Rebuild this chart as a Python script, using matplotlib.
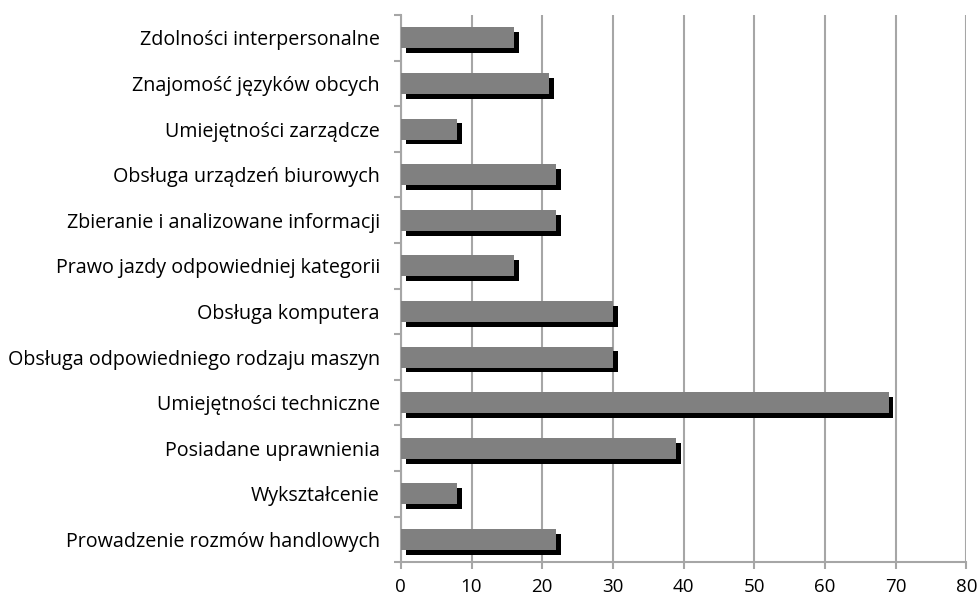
import numpy as np
import matplotlib
matplotlib.use('Agg')
import matplotlib.pyplot as plt
import matplotlib.patheffects as pe

categories = [
    'Prowadzenie rozmów handlowych',
    'Wykształcenie',
    'Posiadane uprawnienia',
    'Umiejętności techniczne',
    'Obsługa odpowiedniego rodzaju maszyn',
    'Obsługa komputera',
    'Prawo jazdy odpowiedniej kategorii',
    'Zbieranie i analizowane informacji',
    'Obsługa urządzeń biurowych',
    'Umiejętności zarządcze',
    'Znajomość języków obcych',
    'Zdolności interpersonalne',
]
values = [22, 8, 39, 69, 30, 30, 16, 22, 22, 8, 21, 16]
xticks = [0, 10, 20, 30, 40, 50, 60, 70, 80]

plt.rcParams['font.family'] = ['Open Sans', 'DejaVu Sans']
grid_col = '#a6a6a6'

fig = plt.figure(figsize=(9.8, 6.02), dpi=100)
ax = fig.add_axes([0.409, 0.066, 0.577, 0.909])

y = np.arange(len(categories))
bars = ax.barh(y, values, height=0.46, color='#808080', zorder=3)
for b in bars:
    b.set_path_effects([pe.SimplePatchShadow(offset=(3.5, -3.5), shadow_rgbFace='black', alpha=1.0),
                        pe.Normal()])

ax.set_xlim(0, 80)
ax.set_ylim(-0.5, len(categories) - 0.5)
ax.set_xticks(xticks)
ax.set_xticklabels([str(t) for t in xticks], fontsize=13.5)
ax.set_yticks(y)
ax.set_yticklabels(categories, fontsize=14.2)
ax.set_yticks(np.arange(-0.5, len(categories), 1), minor=True)
ax.tick_params(axis='y', which='major', length=0, pad=15)
ax.tick_params(axis='y', which='minor', length=5, color=grid_col, width=1.5)
ax.tick_params(axis='x', length=5, color=grid_col, width=1.5, pad=6)

ax.xaxis.grid(True, color=grid_col, linewidth=1.5, zorder=0)
ax.set_axisbelow(True)
for s in ['top', 'right']:
    ax.spines[s].set_visible(False)
for s in ['left', 'bottom']:
    ax.spines[s].set_color(grid_col)
    ax.spines[s].set_linewidth(1.5)

fig.savefig('out.png', dpi=100)
